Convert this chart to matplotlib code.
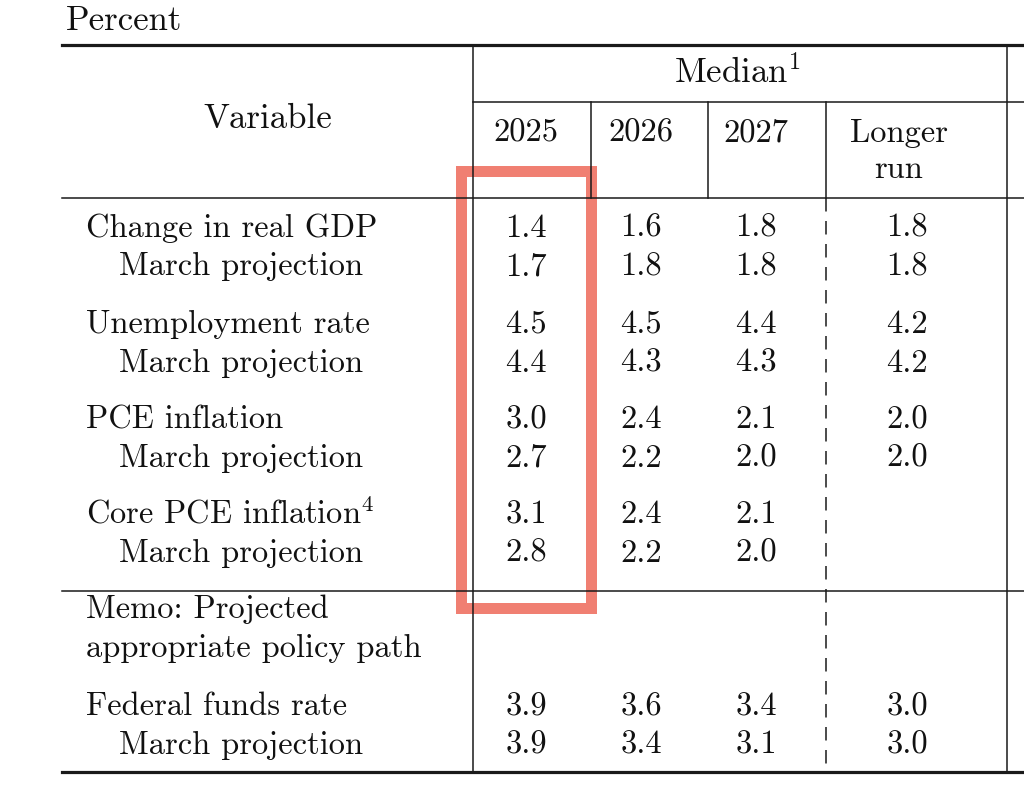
import matplotlib
matplotlib.use("Agg")
import matplotlib.pyplot as plt
from matplotlib.patches import Rectangle

plt.rcParams['font.family'] = ['cmr10', 'DejaVu Serif']
plt.rcParams['mathtext.fontset'] = 'cm'
plt.rcParams['axes.unicode_minus'] = False

# table content
columns = ["2025", "2026", "2027"]
longer_run_label = ["Longer", "run"]
variables = ["Change in real GDP", "Unemployment rate", "PCE inflation",
             "Core PCE inflation$^{4}$"]
june_vals = [["1.4", "1.6", "1.8", "1.8"],
             ["4.5", "4.5", "4.4", "4.2"],
             ["3.0", "2.4", "2.1", "2.0"],
             ["3.1", "2.4", "2.1", ""]]
march_vals = [["1.7", "1.8", "1.8", "1.8"],
              ["4.4", "4.3", "4.3", "4.2"],
              ["2.7", "2.2", "2.0", "2.0"],
              ["2.8", "2.2", "2.0", ""]]
memo_label = ["Memo: Projected", "appropriate policy path"]
fed_label = "Federal funds rate"
fed_june = ["3.9", "3.6", "3.4", "3.0"]
fed_march = ["3.9", "3.4", "3.1", "3.0"]

# layout (pixels)
W, H = 1024, 793
FS = 23.4
FS_HEAD = 25
col_x = [526, 641, 756, 907]
left_x, indent_x = 86, 119
row_base = [236.7, 333, 428.3, 523]
pair_gap = 38.6

fig = plt.figure(figsize=(W / 100, H / 100), dpi=100)
ax = fig.add_axes([0, 0, 1, 1])
ax.set_xlim(0, W)
ax.set_ylim(H, 0)
ax.axis('off')


def txt(x, y, s, ha='left', size=FS):
    ax.text(x, y, s, fontsize=size, ha=ha, va='baseline', color='#111111')


# headers
txt(66, 30, "Percent", size=FS_HEAD)
txt(268, 128, "Variable", ha='center', size=FS_HEAD)
txt(737, 83, "Median$^{1}$", ha='center', size=FS_HEAD)
for c, x in zip(columns, col_x[:3]):
    txt(x, 141.7, c, ha='center')
txt(899, 141.7, longer_run_label[0], ha='center')
txt(899, 178, longer_run_label[1], ha='center')

# main rows
for name, jv, mv, yb in zip(variables, june_vals, march_vals, row_base):
    txt(left_x, yb, name)
    txt(indent_x, yb + pair_gap, "March projection")
    for x, v in zip(col_x, jv):
        txt(x, yb, v, ha='center')
    for x, v in zip(col_x, mv):
        txt(x, yb + pair_gap, v, ha='center')

# memo section
txt(left_x, 618, memo_label[0])
txt(left_x, 618 + pair_gap, memo_label[1])
txt(left_x, 715, fed_label)
txt(indent_x, 715 + pair_gap, "March projection")
for x, v in zip(col_x, fed_june):
    txt(x, 715, v, ha='center')
for x, v in zip(col_x, fed_march):
    txt(x, 715 + pair_gap, v, ha='center')

# rules
thin, thick = 1.1, 2.3
lc = '#1a1a1a'
ax.plot([62, W], [44.5, 44.5], color=lc, lw=thick, zorder=3)
ax.plot([62, W], [772, 772], color=lc, lw=thick, zorder=3)
ax.plot([473, W], [101.7, 101.7], color=lc, lw=thin, zorder=3)
ax.plot([62, W], [198.3, 198.3], color=lc, lw=thin, zorder=3)
ax.plot([62, W], [591, 591], color=lc, lw=thin, zorder=3)
ax.plot([473, 473], [44.5, 772], color=lc, lw=thin, zorder=3)
ax.plot([1006.5, 1006.5], [44.5, 772], color=lc, lw=thin, zorder=3)
for x in [591, 708, 826]:
    ax.plot([x, x], [101.7, 198.3], color=lc, lw=thin, zorder=3)
dash, = ax.plot([826, 826], [198.3, 772], color=lc, lw=thin, zorder=3)
dash.set_dashes([13.5 * 0.72 / thin, 9.5 * 0.72 / thin])

# highlight box
ax.add_patch(Rectangle((460.5, 171), 130.5, 436.5, fill=False,
                       edgecolor='#F07F72', lw=11 * 0.72, zorder=2,
                       joinstyle='miter'))

fig.savefig("out.png", dpi=100)
